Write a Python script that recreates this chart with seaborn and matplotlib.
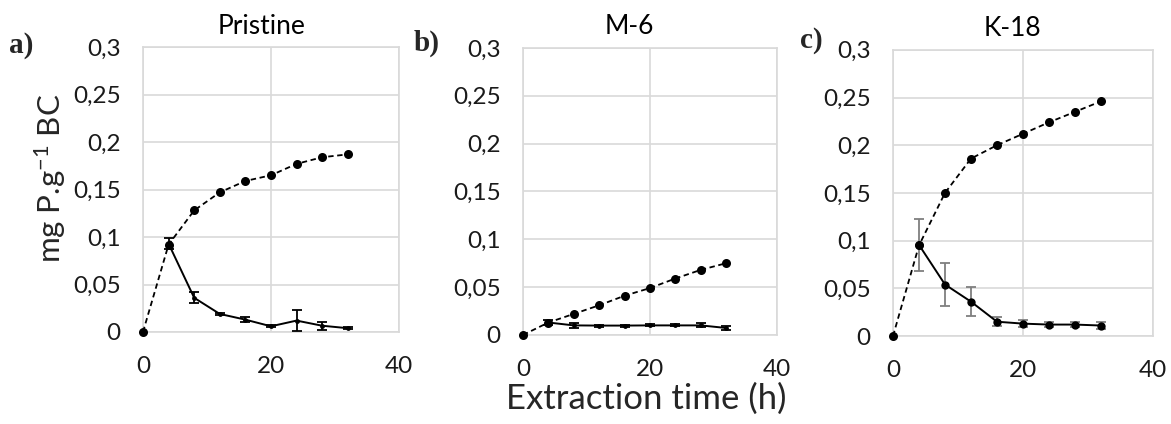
import pandas as pd
import matplotlib
matplotlib.use("Agg")
import matplotlib.pyplot as plt
import seaborn as sns
from matplotlib.ticker import FuncFormatter, MultipleLocator

sns.set_style("whitegrid")
plt.rcParams['font.family'] = ['Lato', 'DejaVu Sans']
plt.rcParams['mathtext.default'] = 'regular'

# Extraction times (h)
time_cum = [0, 4, 8, 12, 16, 20, 24, 28, 32]
time_int = [4, 8, 12, 16, 20, 24, 28, 32]

panels = ['Pristine', 'M-6', 'K-18']
panel_tags = ['a)', 'b)', 'c)']

# cumulative release (dashed)
cum_pristine = [0, 0.092, 0.128, 0.147, 0.159, 0.165, 0.177, 0.184, 0.187]
cum_m6 = [0, 0.013, 0.022, 0.031, 0.041, 0.049, 0.059, 0.068, 0.075]
cum_k18 = [0, 0.095, 0.150, 0.186, 0.200, 0.212, 0.224, 0.235, 0.246]

# release per interval (solid) and its error
int_pristine = [0.093, 0.036, 0.019, 0.013, 0.006, 0.012, 0.0066, 0.004]
err_pristine = [0.006, 0.006, 0.001, 0.003, 0.001, 0.011, 0.004, 0.001]
int_m6 = [0.013, 0.010, 0.0098, 0.0098, 0.010, 0.010, 0.010, 0.0073]
err_m6 = [0.003, 0.003, 0.001, 0.001, 0.001, 0.001, 0.002, 0.002]
int_k18 = [0.0955, 0.054, 0.036, 0.015, 0.013, 0.012, 0.012, 0.011]
err_k18 = [0.027, 0.023, 0.015, 0.005, 0.004, 0.003, 0.003, 0.004]

cum_all = [cum_pristine, cum_m6, cum_k18]
int_all = [int_pristine, int_m6, int_k18]
err_all = [err_pristine, err_m6, err_k18]

# layout (figure fractions)
rects = [[0.1221, 0.217, 0.2186, 0.672],
         [0.4466, 0.210, 0.2169, 0.677],
         [0.7626, 0.2075, 0.2220, 0.675]]
title_x = [0.465, 0.42, 0.458]
tag_pos = [(0.008, 0.893), (0.353, 0.898), (0.683, 0.905)]
small_marker = [3.5, 3.5, 6]
err_color = ['black', 'black', '#7f7f7f']

fig = plt.figure(figsize=(11.71, 4.24), dpi=100)
comma = FuncFormatter(lambda v, p: ('%g' % round(v, 3)).replace('.', ','))

for i, name in enumerate(panels):
    ax = fig.add_axes(rects[i])
    df_cum = pd.DataFrame({'t': time_cum, 'P': cum_all[i]})
    df_int = pd.DataFrame({'t': time_int, 'P': int_all[i], 'err': err_all[i]})

    ax.errorbar(df_int['t'], df_int['P'], yerr=df_int['err'], fmt='none',
                ecolor=err_color[i], elinewidth=1.3, capsize=3.8, capthick=1.3, zorder=3)
    sns.lineplot(data=df_int, x='t', y='P', ax=ax, color='black', lw=1.4,
                 marker='o', markersize=small_marker[i], markeredgewidth=0, zorder=4)
    sns.lineplot(data=df_cum, x='t', y='P', ax=ax, color='black', lw=1.3,
                 dashes=False, linestyle=(0, (3, 2)), clip_on=False,
                 marker='o', markersize=6.5, markeredgewidth=0, zorder=4)

    ax.set_xlim(0, 40)
    ax.set_ylim(0, 0.3)
    ax.xaxis.set_major_locator(MultipleLocator(20))
    ax.yaxis.set_major_locator(MultipleLocator(0.05))
    ax.yaxis.set_major_formatter(comma)
    ax.grid(True, color='#d9d9d9', lw=1.2)
    for s in ax.spines.values():
        s.set_color('#d9d9d9')
        s.set_linewidth(1.2)
    ax.tick_params(axis='y', labelsize=17.5, pad=16, length=0, colors='#1a1a1a')
    ax.tick_params(axis='x', labelsize=17.5, pad=17, length=0, colors='#1a1a1a')
    ax.set_xlabel('')
    ax.set_ylabel('')
    ax.text(title_x[i], 1.03, name, transform=ax.transAxes, ha='center',
            va='bottom', fontsize=19, color='black')
    fig.text(tag_pos[i][0], tag_pos[i][1], panel_tags[i], fontsize=21,
             fontweight='bold', family='Liberation Serif', va='center')

fig.text(0.043, 0.58, 'mg P.g$^{-1}$ BC', rotation=90, fontsize=22.5,
         ha='center', va='center')
fig.text(0.552, 0.06, 'Extraction time (h)', fontsize=25, ha='center', va='center')

plt.savefig('out.png', dpi=100)
